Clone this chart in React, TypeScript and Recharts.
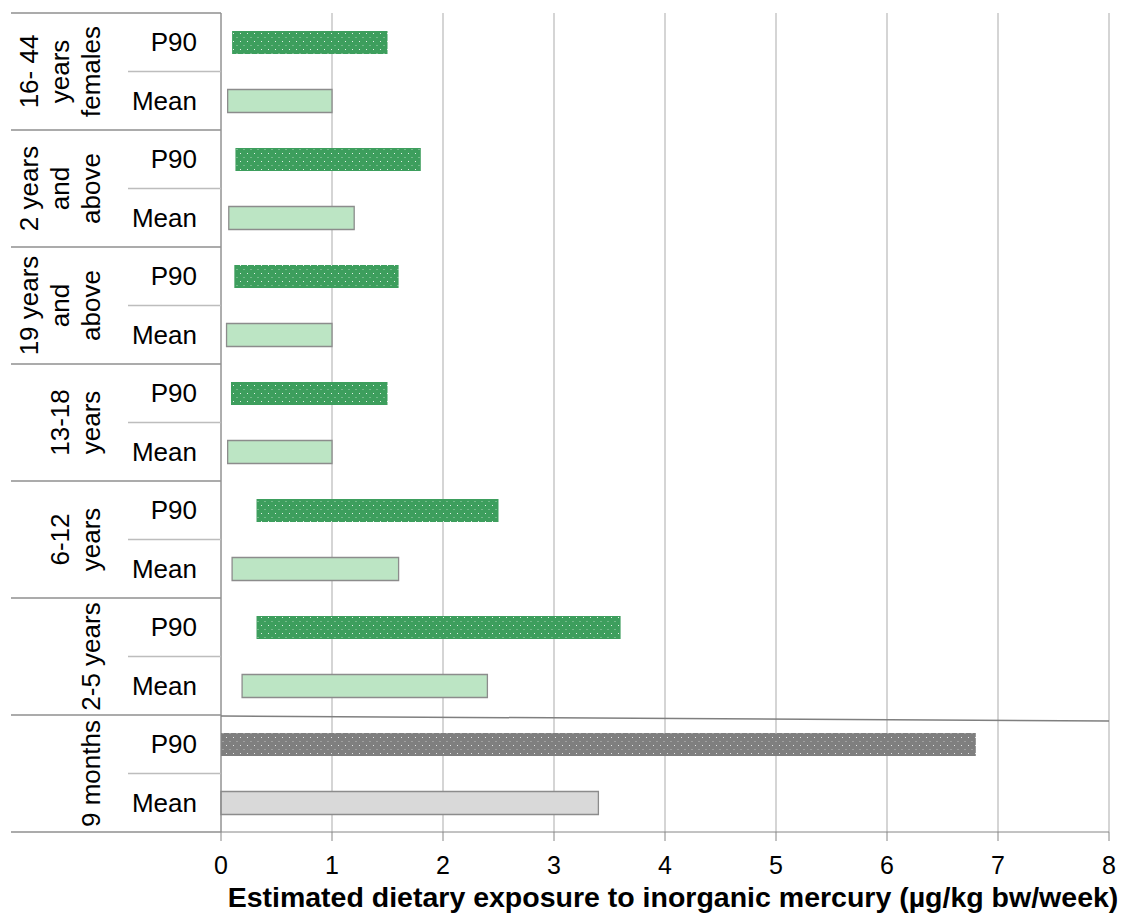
import { BarChart, Bar, XAxis, YAxis, CartesianGrid, Cell } from 'recharts'

// age groups (label lines, as wrapped in the original table)
const groupLabels: string[][] = [
  ['16- 44', 'years', 'females'],
  ['2 years', 'and', 'above'],
  ['19 years', 'and', 'above'],
  ['13-18', 'years'],
  ['6-12', 'years'],
  ['2-5 years'],
  ['9 months'],
]
const statLabels = ['P90', 'Mean']

// floating bars: [start, end] in µg/kg bw/week
const p90Low = [0.1, 0.13, 0.12, 0.09, 0.32, 0.32, 0]
const p90High = [1.5, 1.8, 1.6, 1.5, 2.5, 3.6, 6.8]
const meanLow = [0.06, 0.07, 0.05, 0.06, 0.1, 0.19, 0]
const meanHigh = [1.0, 1.2, 1.0, 1.0, 1.6, 2.4, 3.4]

const xTicks = [0, 1, 2, 3, 4, 5, 6, 7, 8]
const xTitle = 'Estimated dietary exposure to inorganic mercury (µg/kg bw/week)'

interface Row {
  key: string
  group: number
  stat: string
  range: [number, number]
}

const rows: Row[] = groupLabels.flatMap((_, g) => [
  { key: `${g}-P90`, group: g, stat: statLabels[0], range: [p90Low[g], p90High[g]] as [number, number] },
  { key: `${g}-Mean`, group: g, stat: statLabels[1], range: [meanLow[g], meanHigh[g]] as [number, number] },
])

const FONT = "'Liberation Sans', Arial, sans-serif"
const CHART_W = 1120
const CHART_H = 907
const MARGIN = { top: 5, right: 19, bottom: 0, left: 0 }
const Y_W = 213
const X_H = 83
const AXIS_X = MARGIN.left + Y_W
const PLOT_RIGHT = CHART_W - MARGIN.right
const ROW_H = (CHART_H - MARGIN.top - MARGIN.bottom - X_H) / rows.length
const LAST_GROUP = groupLabels.length - 1

// eslint-disable-next-line @typescript-eslint/no-explicit-any
function RowTick(props: any) {
  const { y, payload } = props
  const row = rows.find(r => r.key === payload.value)
  if (!row) return null
  const half = ROW_H / 2
  const isP90 = row.stat === 'P90'
  const lines = groupLabels[row.group]
  const isLast = row.group === LAST_GROUP && !isP90
  return (
    <g>
      <text
        x={AXIS_X - 24}
        y={y}
        textAnchor="end"
        dominantBaseline="central"
        fontSize={26}
        fill="#000"
        fontFamily={FONT}
      >
        {row.stat}
      </text>
      {isP90 && (
        <>
          {/* group top border + P90/Mean divider */}
          <line x1={3} x2={AXIS_X} y1={y - half} y2={y - half} stroke="#8f8f8f" strokeWidth={1.3} />
          <line x1={120} x2={AXIS_X} y1={y + half} y2={y + half} stroke="#bdbdbd" strokeWidth={1.3} />
          <text
            transform={`translate(92, ${y + half}) rotate(-90)`}
            textAnchor="middle"
            fontSize={26}
            fill="#000"
            fontFamily={FONT}
          >
            {lines.map((l, i) => (
              <tspan key={i} x={0} y={(i - (lines.length - 1)) * 31}>{l}</tspan>
            ))}
          </text>
        </>
      )}
      {isP90 && row.group === LAST_GROUP && (
        <line x1={AXIS_X} x2={PLOT_RIGHT} y1={y - half + 1} y2={y - half + 6} stroke="#7f7f7f" strokeWidth={1.5} />
      )}
      {isLast && (
        <line x1={3} x2={AXIS_X} y1={y + half} y2={y + half} stroke="#8f8f8f" strokeWidth={1.3} />
      )}
    </g>
  )
}

// eslint-disable-next-line @typescript-eslint/no-explicit-any
function TitleLabel(props: any) {
  const vb = props.viewBox || { x: AXIS_X, y: 824, width: PLOT_RIGHT - AXIS_X, height: X_H }
  return (
    <text
      x={vb.x + vb.width / 2 + 8}
      y={vb.y + vb.height - 8}
      textAnchor="middle"
      fontSize={28.5}
      fontWeight="bold"
      fill="#000"
      fontFamily={FONT}
    >
      {xTitle}
    </text>
  )
}

function barFill(r: Row) {
  if (r.group === LAST_GROUP) return r.stat === 'P90' ? 'url(#dotsGray)' : '#d9d9d9'
  return r.stat === 'P90' ? 'url(#dotsGreen)' : '#bce5c4'
}

export default function App() {
  return (
    <div style={{ fontFamily: FONT, position: 'relative' }}>
      <svg width={0} height={0} style={{ position: 'absolute' }}>
        <defs>
          <pattern id="dotsGreen" width={7} height={8} patternUnits="userSpaceOnUse">
            <rect width={7} height={8} fill="#3d9e5d" />
            <rect x={1} y={1} width={1} height={1} fill="#ffffff" opacity={0.85} />
            <rect x={4.5} y={5} width={1} height={1} fill="#ffffff" opacity={0.55} />
          </pattern>
          <pattern id="dotsGray" width={7} height={8} patternUnits="userSpaceOnUse">
            <rect width={7} height={8} fill="#7f7f7f" />
            <rect x={1} y={1} width={1} height={1} fill="#ffffff" opacity={0.8} />
            <rect x={4.5} y={5} width={1} height={1} fill="#ffffff" opacity={0.5} />
          </pattern>
        </defs>
      </svg>
      <BarChart width={CHART_W} height={CHART_H} data={rows} layout="vertical" margin={MARGIN}>
        <CartesianGrid vertical horizontal={false} stroke="#bfbfbf" strokeWidth={1.3} />
        <XAxis
          type="number"
          domain={[0, 8]}
          ticks={xTicks}
          height={X_H}
          stroke="#868686"
          tickSize={9}
          tickMargin={15}
          tick={{ fontSize: 25, fill: '#000', fontFamily: FONT }}
          label={<TitleLabel />}
        />
        <YAxis
          type="category"
          dataKey="key"
          width={Y_W}
          stroke="#868686"
          tickLine={false}
          interval={0}
          tick={<RowTick />}
        />
        <Bar dataKey="range" barSize={23} isAnimationActive={false}>
          {rows.map(r => (
            <Cell
              key={r.key}
              fill={barFill(r)}
              stroke={r.stat === 'Mean' ? '#8c8c8c' : 'none'}
              strokeWidth={1.3}
            />
          ))}
        </Bar>
      </BarChart>
    </div>
  )
}
